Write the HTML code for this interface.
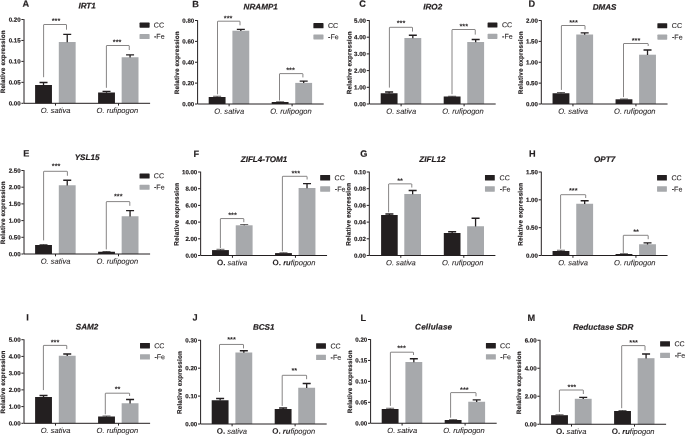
<!DOCTYPE html>
<html lang="en"><head><meta charset="utf-8"><title>Relative expression of Fe-deficiency responsive genes</title>
<style>
html,body{margin:0;padding:0;background:#fff;}
body{width:685px;height:436px;overflow:hidden;}
svg{display:block;filter:blur(0.3px);font-family:"Liberation Sans",Arial,Helvetica,sans-serif;fill:#231f20;}
.pl{font-size:9.2px;font-weight:bold;stroke:#231f20;stroke-width:0.15px;}
.ti{font-size:8.1px;font-weight:bold;font-style:italic;text-anchor:middle;stroke:#231f20;stroke-width:0.2px;}
.tw{letter-spacing:0.18px;}
.tk{font-size:6.1px;font-weight:bold;text-anchor:end;stroke:#231f20;stroke-width:0.18px;}
.yl{font-size:6.3px;font-weight:bold;text-anchor:middle;letter-spacing:0.21px;stroke:#231f20;stroke-width:0.2px;}
.xl{font-size:7.55px;font-style:italic;text-anchor:middle;stroke:#231f20;stroke-width:0.08px;}
.xl .b{font-style:normal;font-weight:bold;font-size:8px;}
.xl .b2{font-weight:bold;}
.lg{font-size:7.1px;stroke:#231f20;stroke-width:0.1px;}
.st{font-size:7.4px;font-weight:bold;text-anchor:middle;}
.ax{stroke:#231f20;stroke-width:1;fill:none;}
.tl{stroke:#231f20;stroke-width:1;fill:none;}
.eb{stroke:#231f20;stroke-width:1.3;fill:none;}
.br{stroke:#231f20;stroke-width:0.55;fill:none;stroke-linejoin:round;}
.k{fill:#231f20;}
.g{fill:#a7a9ac;}
</style></head><body>
<svg width="685" height="436" viewBox="0 0 685 436">
<rect x="0" y="0" width="685" height="436" fill="#fff"/>
<g>
<text class="pl" transform="translate(22.6 6.8) rotate(0.05)">A</text>
<text class="ti" transform="translate(87.1 8.5) rotate(0.05)">IRT1</text>
<text class="yl" transform="translate(5.1 61.8) rotate(-89.95)">Relative expression</text>
<rect class="k" x="35.1" y="85" width="16.85" height="18.3"/>
<path class="eb" d="M43.52 85.2V82.5M39.52 82.5H47.52"/>
<rect class="g" x="58.8" y="42" width="16.85" height="61.3"/>
<path class="eb" d="M67.23 42.2V34.3M63.23 34.3H71.23"/>
<rect class="k" x="98.1" y="92.5" width="16.85" height="10.8"/>
<path class="eb" d="M106.53 92.7V91.4M102.53 91.4H110.53"/>
<rect class="g" x="121.65" y="57.25" width="16.85" height="46.05"/>
<path class="eb" d="M130.07 57.45V54.9M126.07 54.9H134.07"/>
<path class="ax" d="M24 19.1V103.3H150.1"/>
<text class="tk" transform="translate(20.6 21.65) rotate(0.05)">0.20</text>
<text class="tk" transform="translate(20.6 42.6) rotate(0.05)">0.15</text>
<text class="tk" transform="translate(20.6 63.55) rotate(0.05)">0.10</text>
<text class="tk" transform="translate(20.6 84.5) rotate(0.05)">0.05</text>
<text class="tk" transform="translate(20.6 105.45) rotate(0.05)">0.00</text>
<path class="tl" d="M21.4 19.5H23.7M21.4 40.45H23.7M21.4 61.4H23.7M21.4 82.35H23.7M21.4 103.3H23.7M55.5 103.3V105.6M118.5 103.3V105.6"/>
<text class="xl" transform="translate(55.6 113) rotate(0.05)">O. sativa</text>
<text class="xl" transform="translate(117.35 113) rotate(0.05)">O. rufipogon</text>
<rect class="k" rx="0.6" x="139.53" y="22.55" width="10.09" height="5.15"/>
<rect class="g" rx="0.6" x="139.53" y="34.05" width="10.09" height="5.05"/>
<text class="lg" transform="translate(153.8 27.45) rotate(0.05)">CC</text>
<text class="lg" transform="translate(154 38.85) rotate(0.05)">-Fe</text>
<path class="br" d="M43.6 77.2V25Q43.6 24.5 44.1 24.5H66Q66.5 24.5 66.5 25V29.7"/>
<text class="st" transform="translate(56 23.18) rotate(0.05)">***</text>
<path class="br" d="M106.4 87.8V46Q106.4 45.5 106.9 45.5H128.75Q129.25 45.5 129.25 46V50"/>
<text class="st" transform="translate(117.1 44.54) rotate(0.05)">***</text>
</g>
<g>
<text class="pl" transform="translate(192.3 7.2) rotate(0.05)">B</text>
<text class="ti" transform="translate(260.7 9.5) rotate(0.05)">NRAMP1</text>
<text class="yl" transform="translate(178.95 62.65) rotate(-89.95)">Relative expression</text>
<rect class="k" x="208.7" y="97" width="16.85" height="7"/>
<path class="eb" style="stroke-width:0.7" d="M217.12 97.2V96.25M213.12 96.25H221.12"/>
<rect class="g" x="232.4" y="30.7" width="16.85" height="73.3"/>
<path class="eb" d="M240.83 30.9V29.4M236.83 29.4H244.83"/>
<rect class="k" x="271.7" y="102" width="16.85" height="2"/>
<path class="eb" style="stroke-width:0.7" d="M280.12 102.2V101.75M276.12 101.75H284.12"/>
<rect class="g" x="295.25" y="82.9" width="16.85" height="21.1"/>
<path class="eb" d="M303.68 83.1V81.2M299.68 81.2H307.68"/>
<path class="ax" d="M197.6 20.1V104H323.7"/>
<text class="tk" transform="translate(194.2 22.65) rotate(0.05)">0.80</text>
<text class="tk" transform="translate(194.2 43.52) rotate(0.05)">0.60</text>
<text class="tk" transform="translate(194.2 64.4) rotate(0.05)">0.40</text>
<text class="tk" transform="translate(194.2 85.28) rotate(0.05)">0.20</text>
<text class="tk" transform="translate(194.2 106.15) rotate(0.05)">0.00</text>
<path class="tl" d="M195 20.5H197.3M195 41.38H197.3M195 62.25H197.3M195 83.12H197.3M195 104H197.3M229.1 104V106.3M292.1 104V106.3"/>
<text class="xl" transform="translate(229.2 113.7) rotate(0.05)">O. sativa</text>
<text class="xl" transform="translate(290.95 113.7) rotate(0.05)">O. rufipogon</text>
<rect class="k" rx="0.6" x="313.38" y="23.1" width="10.14" height="5.15"/>
<rect class="g" rx="0.6" x="313.38" y="34.4" width="10.14" height="5.05"/>
<text class="lg" transform="translate(327.9 28) rotate(0.05)">CC</text>
<text class="lg" transform="translate(328.1 39.2) rotate(0.05)">-Fe</text>
<path class="br" d="M217.5 94.3V21.7Q217.5 21.2 218 21.2H239.5Q240 21.2 240 21.7V25.3"/>
<text class="st" transform="translate(228.1 20.83) rotate(0.05)">***</text>
<path class="br" d="M279.5 100.5V74.1Q279.5 73.6 280 73.6H302.4Q302.9 73.6 302.9 74.1V77.4"/>
<text class="st" transform="translate(290.5 72.43) rotate(0.05)">***</text>
</g>
<g>
<text class="pl" transform="translate(359.3 6.8) rotate(0.05)">C</text>
<text class="ti" transform="translate(432.7 9.6) rotate(0.05)">IRO2</text>
<text class="yl" transform="translate(351.4 62.65) rotate(-89.95)">Relative expression</text>
<rect class="k" x="380.7" y="93.25" width="16.85" height="10.75"/>
<path class="eb" d="M389.12 93.45V92M385.12 92H393.12"/>
<rect class="g" x="404.4" y="38" width="16.85" height="66"/>
<path class="eb" d="M412.83 38.2V35.25M408.83 35.25H416.83"/>
<rect class="k" x="443.7" y="96.5" width="16.85" height="7.5"/>
<path class="eb" style="stroke-width:0.7" d="M452.12 96.7V96.25M448.12 96.25H456.12"/>
<rect class="g" x="467.25" y="42" width="16.85" height="62"/>
<path class="eb" d="M475.68 42.2V39.5M471.68 39.5H479.68"/>
<path class="ax" d="M369.35 20.1V104H495.7"/>
<text class="tk" transform="translate(365.95 22.65) rotate(0.05)">5.00</text>
<text class="tk" transform="translate(365.95 39.35) rotate(0.05)">4.00</text>
<text class="tk" transform="translate(365.95 56.05) rotate(0.05)">3.00</text>
<text class="tk" transform="translate(365.95 72.75) rotate(0.05)">2.00</text>
<text class="tk" transform="translate(365.95 89.45) rotate(0.05)">1.00</text>
<text class="tk" transform="translate(365.95 106.15) rotate(0.05)">0.00</text>
<path class="tl" d="M366.75 20.5H369.05M366.75 37.2H369.05M366.75 53.9H369.05M366.75 70.6H369.05M366.75 87.3H369.05M366.75 104H369.05M401.1 104V106.3M464.1 104V106.3"/>
<text class="xl" transform="translate(401.2 113.7) rotate(0.05)">O. sativa</text>
<text class="xl" transform="translate(462.95 113.7) rotate(0.05)">O. rufipogon</text>
<rect class="k" rx="0.6" x="487.58" y="22.45" width="9.84" height="5.15"/>
<rect class="g" rx="0.6" x="487.58" y="33.85" width="9.84" height="5.05"/>
<text class="lg" transform="translate(501.9 27.35) rotate(0.05)">CC</text>
<text class="lg" transform="translate(502.1 38.65) rotate(0.05)">-Fe</text>
<path class="br" d="M389.4 87.6V27.8Q389.4 27.3 389.9 27.3H412Q412.5 27.3 412.5 27.8V31.6"/>
<text class="st" transform="translate(401 25.61) rotate(0.05)">***</text>
<path class="br" d="M452 94.2V30Q452 29.5 452.5 29.5H474.75Q475.25 29.5 475.25 30V34.6"/>
<text class="st" transform="translate(463.75 28.66) rotate(0.05)">***</text>
</g>
<g>
<text class="pl" transform="translate(528.4 6.8) rotate(0.05)">D</text>
<text class="ti" transform="translate(604.55 9.8) rotate(0.05)">DMAS</text>
<text class="yl" transform="translate(522.75 62.65) rotate(-89.95)">Relative expression</text>
<rect class="k" x="552.55" y="93.25" width="16.85" height="10.75"/>
<path class="eb" style="stroke-width:0.7" d="M560.98 93.45V92.5M556.98 92.5H564.98"/>
<rect class="g" x="576.25" y="34.5" width="16.85" height="69.5"/>
<path class="eb" d="M584.67 34.7V32.9M580.67 32.9H588.67"/>
<rect class="k" x="615.55" y="99.3" width="16.85" height="4.7"/>
<path class="eb" style="stroke-width:0.7" d="M623.98 99.5V99M619.98 99H627.98"/>
<rect class="g" x="639.1" y="54.7" width="16.85" height="49.3"/>
<path class="eb" d="M647.52 54.9V50M643.52 50H651.52"/>
<path class="ax" d="M541.3 20.1V104H667.55"/>
<text class="tk" transform="translate(537.9 22.65) rotate(0.05)">2.00</text>
<text class="tk" transform="translate(537.9 43.52) rotate(0.05)">1.50</text>
<text class="tk" transform="translate(537.9 64.4) rotate(0.05)">1.00</text>
<text class="tk" transform="translate(537.9 85.28) rotate(0.05)">0.50</text>
<text class="tk" transform="translate(537.9 106.15) rotate(0.05)">0.00</text>
<path class="tl" d="M538.7 20.5H541M538.7 41.38H541M538.7 62.25H541M538.7 83.12H541M538.7 104H541M572.95 104V106.3M635.95 104V106.3"/>
<text class="xl" transform="translate(573.05 113.7) rotate(0.05)">O. sativa</text>
<text class="xl" transform="translate(634.8 113.7) rotate(0.05)">O. rufipogon</text>
<rect class="k" rx="0.6" x="657.38" y="23.2" width="9.84" height="5.15"/>
<rect class="g" rx="0.6" x="657.38" y="34.6" width="9.84" height="5.05"/>
<text class="lg" transform="translate(671.8 28.1) rotate(0.05)">CC</text>
<text class="lg" transform="translate(672 39.4) rotate(0.05)">-Fe</text>
<path class="br" d="M561.4 89.9V26Q561.4 25.5 561.9 25.5H584.5Q585 25.5 585 26V29.5"/>
<text class="st" transform="translate(573.5 24.88) rotate(0.05)">***</text>
<path class="br" d="M623.5 97.1V44Q623.5 43.5 624 43.5H647.7Q648.2 43.5 648.2 44V46"/>
<text class="st" transform="translate(636 42.88) rotate(0.05)">***</text>
</g>
<g>
<text class="pl" transform="translate(23.2 156.6) rotate(0.05)">E</text>
<text class="ti" transform="translate(87.1 160.1) rotate(0.05)">YSL15</text>
<text class="yl" transform="translate(5.1 212.65) rotate(-89.95)">Relative expression</text>
<rect class="k" x="35.1" y="245" width="16.85" height="9"/>
<path class="eb" style="stroke-width:0.7" d="M43.52 245.2V244.5M39.52 244.5H47.52"/>
<rect class="g" x="58.8" y="185.25" width="16.85" height="68.75"/>
<path class="eb" d="M67.23 185.45V180.25M63.23 180.25H71.23"/>
<rect class="k" x="98.1" y="251.75" width="16.85" height="2.25"/>
<path class="eb" style="stroke-width:0.7" d="M106.53 251.95V251.5M102.53 251.5H110.53"/>
<rect class="g" x="121.65" y="216.25" width="16.85" height="37.75"/>
<path class="eb" d="M130.07 216.45V210.65M126.07 210.65H134.07"/>
<path class="ax" d="M24 170.1V254H150.1"/>
<text class="tk" transform="translate(20.6 172.65) rotate(0.05)">2.50</text>
<text class="tk" transform="translate(20.6 189.35) rotate(0.05)">2.00</text>
<text class="tk" transform="translate(20.6 206.05) rotate(0.05)">1.50</text>
<text class="tk" transform="translate(20.6 222.75) rotate(0.05)">1.00</text>
<text class="tk" transform="translate(20.6 239.45) rotate(0.05)">0.50</text>
<text class="tk" transform="translate(20.6 256.15) rotate(0.05)">0.00</text>
<path class="tl" d="M21.4 170.5H23.7M21.4 187.2H23.7M21.4 203.9H23.7M21.4 220.6H23.7M21.4 237.3H23.7M21.4 254H23.7M55.5 254V256.3M118.5 254V256.3"/>
<text class="xl" transform="translate(55.6 263.7) rotate(0.05)">O. sativa</text>
<text class="xl" transform="translate(117.35 263.7) rotate(0.05)">O. rufipogon</text>
<rect class="k" rx="0.6" x="139.53" y="173.45" width="10.09" height="5.15"/>
<rect class="g" rx="0.6" x="139.53" y="184.8" width="10.09" height="5.05"/>
<text class="lg" transform="translate(153.8 178.35) rotate(0.05)">CC</text>
<text class="lg" transform="translate(154 189.6) rotate(0.05)">-Fe</text>
<path class="br" d="M43.6 240.4V171.8Q43.6 171.3 44.1 171.3H66.9Q67.4 171.3 67.4 171.8V175.8"/>
<text class="st" transform="translate(56.1 168.58) rotate(0.05)">***</text>
<path class="br" d="M106.3 249.4V202.1Q106.3 201.6 106.8 201.6H129.3Q129.8 201.6 129.8 202.1V205.8"/>
<text class="st" transform="translate(118.3 198.63) rotate(0.05)">***</text>
</g>
<g>
<text class="pl" transform="translate(193.5 156.9) rotate(0.05)">F</text>
<text class="ti" transform="translate(264.05 162.1) rotate(0.05)">ZIFL4-TOM1</text>
<text class="yl" transform="translate(178.65 214.15) rotate(-89.95)">Relative expression</text>
<rect class="k" x="212.05" y="250.1" width="16.85" height="5.4"/>
<path class="eb" style="stroke-width:0.7" d="M220.47 250.3V249.3M216.47 249.3H224.47"/>
<rect class="g" x="235.75" y="225.3" width="16.85" height="30.2"/>
<path class="eb" style="stroke-width:0.7" d="M244.18 225.5V224.55M240.18 224.55H248.18"/>
<rect class="k" x="275.05" y="253.1" width="16.85" height="2.4"/>
<path class="eb" style="stroke-width:0.7" d="M283.48 253.3V252.75M279.48 252.75H287.48"/>
<rect class="g" x="298.6" y="188" width="16.85" height="67.5"/>
<path class="eb" d="M307.02 188.2V183.6M303.02 183.6H311.02"/>
<path class="ax" d="M200.65 171.6V255.5H327.05"/>
<text class="tk" transform="translate(197.25 174.15) rotate(0.05)">10.00</text>
<text class="tk" transform="translate(197.25 190.85) rotate(0.05)">8.00</text>
<text class="tk" transform="translate(197.25 207.55) rotate(0.05)">6.00</text>
<text class="tk" transform="translate(197.25 224.25) rotate(0.05)">4.00</text>
<text class="tk" transform="translate(197.25 240.95) rotate(0.05)">2.00</text>
<text class="tk" transform="translate(197.25 257.65) rotate(0.05)">0.00</text>
<path class="tl" d="M198.05 172H200.35M198.05 188.7H200.35M198.05 205.4H200.35M198.05 222.1H200.35M198.05 238.8H200.35M198.05 255.5H200.35M232.45 255.5V257.8M295.45 255.5V257.8"/>
<text class="xl" transform="translate(232.15 265.2) rotate(0.05)"><tspan class="b">O.</tspan> sativa</text>
<text class="xl" transform="translate(294.05 265.2) rotate(0.05)"><tspan class="b">O.</tspan> <tspan class="b2">ru</tspan>fipogon</text>
<rect class="k" rx="0.3" x="320.17" y="175.07" width="9.96" height="5.41"/>
<rect class="g" rx="0.3" x="320.17" y="186.32" width="9.96" height="5.31"/>
<text class="lg" transform="translate(334.6 180.23) rotate(0.05)">CC</text>
<text class="lg" transform="translate(334.8 191.38) rotate(0.05)">-Fe</text>
<path class="br" d="M220.4 248V219.05Q220.4 218.55 220.9 218.55H243.3Q243.8 218.55 243.8 219.05V222.2"/>
<text class="st" transform="translate(232.5 217.58) rotate(0.05)">***</text>
<path class="br" d="M282.4 251.3V176.8Q282.4 176.3 282.9 176.3H306.6Q307.1 176.3 307.1 176.8V179.5"/>
<text class="st" transform="translate(295.8 175.63) rotate(0.05)">***</text>
</g>
<g>
<text class="pl" transform="translate(360.3 156.8) rotate(0.05)">G</text>
<text class="ti" transform="translate(432.4 162.1) rotate(0.05)">ZIFL12</text>
<text class="yl" transform="translate(350.6 214.15) rotate(-89.95)">Relative expression</text>
<rect class="k" x="381.1" y="215" width="16.6" height="40.5"/>
<path class="eb" d="M389.4 215.2V214M385.4 214H393.4"/>
<rect class="g" x="404.3" y="194" width="16.7" height="61.5"/>
<path class="eb" d="M412.65 194.2V190.5M408.65 190.5H416.65"/>
<rect class="k" x="443.8" y="233" width="16.7" height="22.5"/>
<path class="eb" d="M452.15 233.2V231.75M448.15 231.75H456.15"/>
<rect class="g" x="467.15" y="226.25" width="16.85" height="29.25"/>
<path class="eb" d="M475.57 226.45V218.25M471.57 218.25H479.57"/>
<path class="ax" d="M369.3 171.6V255.5H495.4"/>
<text class="tk" transform="translate(365.9 174.15) rotate(0.05)">0.10</text>
<text class="tk" transform="translate(365.9 190.85) rotate(0.05)">0.08</text>
<text class="tk" transform="translate(365.9 207.55) rotate(0.05)">0.06</text>
<text class="tk" transform="translate(365.9 224.25) rotate(0.05)">0.04</text>
<text class="tk" transform="translate(365.9 240.95) rotate(0.05)">0.02</text>
<text class="tk" transform="translate(365.9 257.65) rotate(0.05)">0.00</text>
<path class="tl" d="M366.7 172H369M366.7 188.7H369M366.7 205.4H369M366.7 222.1H369M366.7 238.8H369M366.7 255.5H369M400.8 255.5V257.8M463.8 255.5V257.8"/>
<text class="xl" transform="translate(400.9 265.2) rotate(0.05)">O. sativa</text>
<text class="xl" transform="translate(462.65 265.2) rotate(0.05)">O. rufipogon</text>
<rect class="k" rx="0.3" x="484.97" y="175.07" width="9.81" height="5.41"/>
<rect class="g" rx="0.3" x="484.97" y="186.32" width="9.81" height="5.31"/>
<text class="lg" transform="translate(499.6 180.23) rotate(0.05)">CC</text>
<text class="lg" transform="translate(499.8 191.38) rotate(0.05)">-Fe</text>
<path class="br" d="M388.6 212.3V184.35Q388.6 183.85 389.1 183.85H411.3Q411.8 183.85 411.8 184.35V187.5"/>
<text class="st" transform="translate(400.1 183.23) rotate(0.05)">**</text>
</g>
<g>
<text class="pl" transform="translate(529.1 156.8) rotate(0.05)">H</text>
<text class="ti" transform="translate(604.55 162.1) rotate(0.05)">OPT7</text>
<text class="yl" transform="translate(522.6 214.15) rotate(-89.95)">Relative expression</text>
<rect class="k" x="552.55" y="251" width="16.85" height="4.5"/>
<path class="eb" style="stroke-width:0.7" d="M560.98 251.2V250.25M556.98 250.25H564.98"/>
<rect class="g" x="576.25" y="203.75" width="16.85" height="51.75"/>
<path class="eb" d="M584.67 203.95V200.75M580.67 200.75H588.67"/>
<rect class="k" x="615.55" y="254" width="16.85" height="1.5"/>
<path class="eb" style="stroke-width:0.7" d="M623.98 254.2V253.7M619.98 253.7H627.98"/>
<rect class="g" x="639.1" y="244.25" width="16.85" height="11.25"/>
<path class="eb" d="M647.52 244.45V242.8M643.52 242.8H651.52"/>
<path class="ax" d="M541.3 171.6V255.5H667.55"/>
<text class="tk" transform="translate(537.9 174.15) rotate(0.05)">1.50</text>
<text class="tk" transform="translate(537.9 201.98) rotate(0.05)">1.00</text>
<text class="tk" transform="translate(537.9 229.82) rotate(0.05)">0.50</text>
<text class="tk" transform="translate(537.9 257.65) rotate(0.05)">0.00</text>
<path class="tl" d="M538.7 172H541M538.7 199.83H541M538.7 227.67H541M538.7 255.5H541M572.95 255.5V257.8M635.95 255.5V257.8"/>
<text class="xl" transform="translate(573.05 265.2) rotate(0.05)">O. sativa</text>
<text class="xl" transform="translate(634.8 265.2) rotate(0.05)">O. rufipogon</text>
<rect class="k" rx="0.3" x="657.07" y="175.07" width="9.81" height="5.41"/>
<rect class="g" rx="0.3" x="657.07" y="186.32" width="9.81" height="5.31"/>
<text class="lg" transform="translate(671.5 180.23) rotate(0.05)">CC</text>
<text class="lg" transform="translate(671.7 191.38) rotate(0.05)">-Fe</text>
<path class="br" d="M560.6 248.8V195.2Q560.6 194.7 561.1 194.7H585.2Q585.7 194.7 585.7 195.2V198"/>
<text class="st" transform="translate(573.3 192.98) rotate(0.05)">***</text>
<path class="br" d="M623.3 252.9V235.8Q623.3 235.3 623.8 235.3H647.7Q648.2 235.3 648.2 235.8V239.2"/>
<text class="st" transform="translate(636 234.18) rotate(0.05)">**</text>
</g>
<g>
<text class="pl" transform="translate(26.3 320.5) rotate(0.05)">I</text>
<text class="ti" transform="translate(87.1 329.5) rotate(0.05)">SAM2</text>
<text class="yl" transform="translate(5.1 381.9) rotate(-89.95)">Relative expression</text>
<rect class="k" x="35.1" y="397" width="16.85" height="26.3"/>
<path class="eb" d="M43.52 397.2V395.5M39.52 395.5H47.52"/>
<rect class="g" x="58.8" y="355.75" width="16.85" height="67.55"/>
<path class="eb" d="M67.23 355.95V354M63.23 354H71.23"/>
<rect class="k" x="98.1" y="416.5" width="16.85" height="6.8"/>
<path class="eb" style="stroke-width:0.7" d="M106.53 416.7V416M102.53 416H110.53"/>
<rect class="g" x="121.65" y="403.25" width="16.85" height="20.05"/>
<path class="eb" d="M130.07 403.45V399.5M126.07 399.5H134.07"/>
<path class="ax" d="M24 339.3V423.3H150.1"/>
<text class="tk" transform="translate(20.6 341.85) rotate(0.05)">5.00</text>
<text class="tk" transform="translate(20.6 358.57) rotate(0.05)">4.00</text>
<text class="tk" transform="translate(20.6 375.29) rotate(0.05)">3.00</text>
<text class="tk" transform="translate(20.6 392.01) rotate(0.05)">2.00</text>
<text class="tk" transform="translate(20.6 408.73) rotate(0.05)">1.00</text>
<text class="tk" transform="translate(20.6 425.45) rotate(0.05)">0.00</text>
<path class="tl" d="M21.4 339.7H23.7M21.4 356.42H23.7M21.4 373.14H23.7M21.4 389.86H23.7M21.4 406.58H23.7M21.4 423.3H23.7M55.5 423.3V425.6M118.5 423.3V425.6"/>
<text class="xl" transform="translate(55.6 433) rotate(0.05)">O. sativa</text>
<text class="xl" transform="translate(117.35 433) rotate(0.05)">O. rufipogon</text>
<rect class="k" rx="0.3" x="140.02" y="342.97" width="9.91" height="5.41"/>
<rect class="g" rx="0.3" x="140.02" y="354.22" width="9.91" height="5.31"/>
<text class="lg" transform="translate(154.2 348.13) rotate(0.05)">CC</text>
<text class="lg" transform="translate(154.4 359.28) rotate(0.05)">-Fe</text>
<path class="br" d="M43.4 390.1V345.9Q43.4 345.4 43.9 345.4H66.25Q66.75 345.4 66.75 345.9V349.1"/>
<text class="st" transform="translate(55 344.68) rotate(0.05)">***</text>
<path class="br" d="M105.3 414.3V393.7Q105.3 393.2 105.8 393.2H129.1Q129.6 393.2 129.6 393.7V396"/>
<text class="st" transform="translate(117.6 391.38) rotate(0.05)">**</text>
</g>
<g>
<text class="pl" transform="translate(192.6 320.6) rotate(0.05)">J</text>
<text class="ti" transform="translate(263.7 329.7) rotate(0.05)">BCS1</text>
<text class="yl" transform="translate(181.65 382.52) rotate(-89.95)">Relative expression</text>
<rect class="k" x="211.7" y="400.25" width="16.85" height="23.75"/>
<path class="eb" d="M220.12 400.45V398.5M216.12 398.5H224.12"/>
<rect class="g" x="235.4" y="352.5" width="16.85" height="71.5"/>
<path class="eb" d="M243.83 352.7V350.75M239.83 350.75H247.83"/>
<rect class="k" x="274.7" y="409" width="16.85" height="15"/>
<path class="eb" d="M283.12 409.2V408M279.12 408H287.12"/>
<rect class="g" x="298.25" y="387.75" width="16.85" height="36.25"/>
<path class="eb" d="M306.68 387.95V383.5M302.68 383.5H310.68"/>
<path class="ax" d="M200.6 339.85V424H326.7"/>
<text class="tk" transform="translate(197.2 342.4) rotate(0.05)">0.30</text>
<text class="tk" transform="translate(197.2 370.32) rotate(0.05)">0.20</text>
<text class="tk" transform="translate(197.2 398.23) rotate(0.05)">0.10</text>
<text class="tk" transform="translate(197.2 426.15) rotate(0.05)">0.00</text>
<path class="tl" d="M198 340.25H200.3M198 368.17H200.3M198 396.08H200.3M198 424H200.3M232.1 424V426.3M295.1 424V426.3"/>
<text class="xl" transform="translate(231.8 433.7) rotate(0.05)"><tspan class="b">O.</tspan> sativa</text>
<text class="xl" transform="translate(293.7 433.7) rotate(0.05)"><tspan class="b">O.</tspan> <tspan class="b2">ru</tspan>fipogon</text>
<rect class="k" rx="0.3" x="316.12" y="343.32" width="9.81" height="5.41"/>
<rect class="g" rx="0.3" x="316.12" y="354.67" width="9.81" height="5.31"/>
<text class="lg" transform="translate(330.4 348.48) rotate(0.05)">CC</text>
<text class="lg" transform="translate(330.6 359.73) rotate(0.05)">-Fe</text>
<path class="br" d="M219.5 392V344.95Q219.5 344.45 220 344.45H243Q243.5 344.45 243.5 344.95V348.4"/>
<text class="st" transform="translate(231.5 342.08) rotate(0.05)">***</text>
<path class="br" d="M282.2 405.9V375.8Q282.2 375.3 282.7 375.3H306.1Q306.6 375.3 306.6 375.8V379.2"/>
<text class="st" transform="translate(294.25 372.98) rotate(0.05)">**</text>
</g>
<g>
<text class="pl" transform="translate(360.5 321) rotate(0.05)">L</text>
<text class="ti tw" transform="translate(433.7 329.5) rotate(0.05)">Cellulase</text>
<text class="yl" transform="translate(351.95 381.77) rotate(-89.95)">Relative expression</text>
<rect class="k" x="381.7" y="409" width="16.85" height="14.25"/>
<path class="eb" style="stroke-width:0.7" d="M390.12 409.2V408.25M386.12 408.25H394.12"/>
<rect class="g" x="405.4" y="362" width="16.85" height="61.25"/>
<path class="eb" d="M413.83 362.2V358.75M409.83 358.75H417.83"/>
<rect class="k" x="444.7" y="420" width="16.85" height="3.25"/>
<path class="eb" style="stroke-width:0.7" d="M453.12 420.2V419.6M449.12 419.6H457.12"/>
<rect class="g" x="468.25" y="401.75" width="16.85" height="21.5"/>
<path class="eb" d="M476.68 401.95V399.8M472.68 399.8H480.68"/>
<path class="ax" d="M370.6 339.1V423.25H496.7"/>
<text class="tk" transform="translate(367.2 341.65) rotate(0.05)">0.20</text>
<text class="tk" transform="translate(367.2 362.59) rotate(0.05)">0.15</text>
<text class="tk" transform="translate(367.2 383.52) rotate(0.05)">0.10</text>
<text class="tk" transform="translate(367.2 404.46) rotate(0.05)">0.05</text>
<text class="tk" transform="translate(367.2 425.4) rotate(0.05)">0.00</text>
<path class="tl" d="M368 339.5H370.3M368 360.44H370.3M368 381.38H370.3M368 402.31H370.3M368 423.25H370.3M402.1 423.25V425.55M465.1 423.25V425.55"/>
<text class="xl" transform="translate(402.2 432.95) rotate(0.05)">O. sativa</text>
<text class="xl" transform="translate(463.95 432.95) rotate(0.05)">O. rufipogon</text>
<rect class="k" rx="0.3" x="485.92" y="342.97" width="9.91" height="5.41"/>
<rect class="g" rx="0.3" x="485.92" y="354.22" width="9.91" height="5.31"/>
<text class="lg" transform="translate(500.1 348.13) rotate(0.05)">CC</text>
<text class="lg" transform="translate(500.3 359.28) rotate(0.05)">-Fe</text>
<path class="br" d="M390.4 405.9V352.7Q390.4 352.2 390.9 352.2H413Q413.5 352.2 413.5 352.7V355"/>
<text class="st" transform="translate(401.5 350.62) rotate(0.05)">***</text>
<path class="br" d="M450.6 417.7V393.1Q450.6 392.6 451.1 392.6H475.5Q476 392.6 476 393.1V396.3"/>
<text class="st" transform="translate(464.4 392.28) rotate(0.05)">***</text>
</g>
<g>
<text class="pl" transform="translate(527.5 320.9) rotate(0.05)">M</text>
<text class="ti" transform="translate(603.1 329.8) rotate(0.05)">Reductase SDR</text>
<text class="yl" transform="translate(521.1 382.65) rotate(-89.95)">Relative expression</text>
<rect class="k" x="551.1" y="415.2" width="16.85" height="9.05"/>
<path class="eb" style="stroke-width:0.7" d="M559.53 415.4V414.75M555.53 414.75H563.53"/>
<rect class="g" x="574.8" y="398.8" width="16.85" height="25.45"/>
<path class="eb" d="M583.23 399V397.3M579.23 397.3H587.23"/>
<rect class="k" x="614.1" y="411" width="16.85" height="13.25"/>
<path class="eb" style="stroke-width:0.7" d="M622.53 411.2V410.5M618.53 410.5H626.53"/>
<rect class="g" x="637.65" y="358.2" width="16.85" height="66.05"/>
<path class="eb" d="M646.08 358.4V354M642.08 354H650.08"/>
<path class="ax" d="M540 339.85V424.25H666.1"/>
<text class="tk" transform="translate(536.6 342.4) rotate(0.05)">6.00</text>
<text class="tk" transform="translate(536.6 370.4) rotate(0.05)">4.00</text>
<text class="tk" transform="translate(536.6 398.4) rotate(0.05)">2.00</text>
<text class="tk" transform="translate(536.6 426.4) rotate(0.05)">0.00</text>
<path class="tl" d="M537.4 340.25H539.7M537.4 368.25H539.7M537.4 396.25H539.7M537.4 424.25H539.7M571.5 424.25V426.55M634.5 424.25V426.55"/>
<text class="xl" transform="translate(571.2 433.95) rotate(0.05)"><tspan class="b">O.</tspan> sativa</text>
<text class="xl" transform="translate(633.1 433.95) rotate(0.05)"><tspan class="b">O.</tspan> <tspan class="b2">ru</tspan>fipogon</text>
<rect class="k" rx="0.3" x="660.12" y="341.17" width="9.86" height="5.41"/>
<rect class="g" rx="0.3" x="660.12" y="352.77" width="9.86" height="5.31"/>
<text class="lg" transform="translate(674.45 346.33) rotate(0.05)">CC</text>
<text class="lg" transform="translate(674.65 357.83) rotate(0.05)">-Fe</text>
<path class="br" d="M559.4 412V390.5Q559.4 390 559.9 390H582.85Q583.35 390 583.35 390.5V394"/>
<text class="st" transform="translate(571.9 389.43) rotate(0.05)">***</text>
<path class="br" d="M621.7 408.2V346.1Q621.7 345.6 622.2 345.6H644.5Q645 345.6 645 346.1V350.5"/>
<text class="st" transform="translate(633.6 344.98) rotate(0.05)">***</text>
</g>
</svg></body></html>
